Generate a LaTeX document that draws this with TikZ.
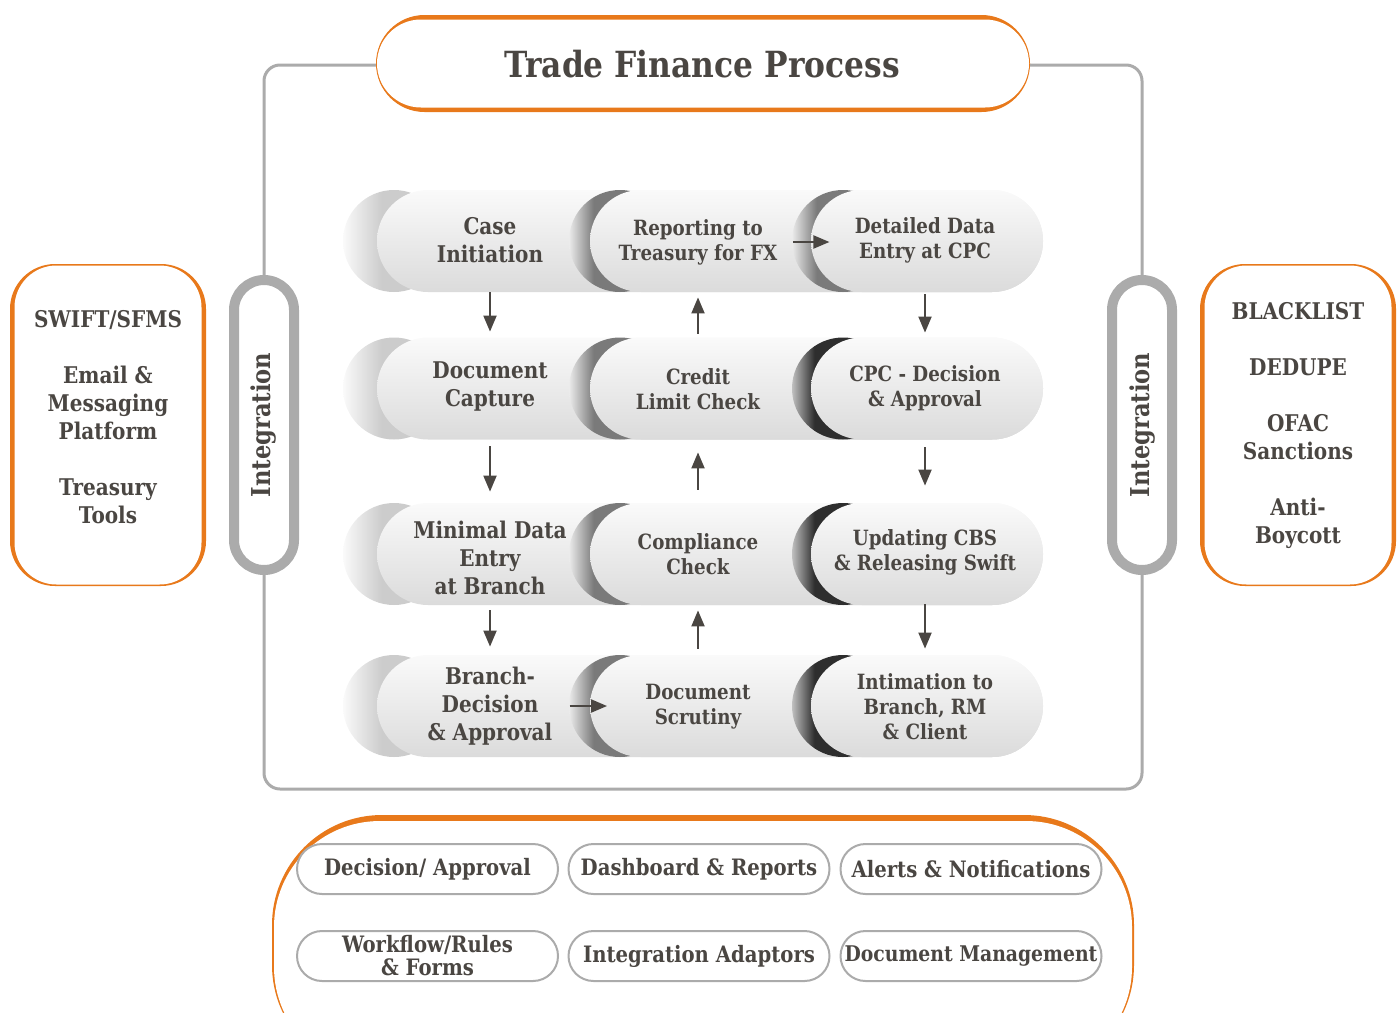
\documentclass[tikz,border=0pt]{standalone}
\usepackage{fontspec}
\setmainfont{DejaVu Serif}[FakeStretch=0.87]
\usetikzlibrary{calc, positioning, arrows.meta}

\definecolor{orng}{HTML}{E8791B}
\definecolor{frame}{HTML}{ABABAB}
\definecolor{ink}{HTML}{4A4642}
\definecolor{pilltop}{HTML}{FAFAFA}
\definecolor{pillbot}{HTML}{DBDBDB}

\pgfdeclarehorizontalshading{ghostshade}{100bp}{color(0bp)=(white!98!black); color(25bp)=(white!98!black); color(44bp)=(white!80!black); color(100bp)=(white!80!black)}
\pgfdeclarehorizontalshading{midshade}{100bp}{color(0bp)=(white!92!black); color(25bp)=(white!92!black); color(37bp)=(white!48!black); color(100bp)=(white!48!black)}
\pgfdeclarehorizontalshading{darkshade}{100bp}{color(0bp)=(white!75!black); color(25bp)=(white!75!black); color(36bp)=(black!82); color(100bp)=(black!82)}

% x start, y centre, shading, shadow offset
\newcommand{\pillseg}[4]{%
  \shade[shading=#3, rounded corners=25.5pt] (#1-#4,#2-51) rectangle (#1-#4+102,#2+51);
  \shade[top color=pilltop, bottom color=pillbot, rounded corners=25.5pt] (#1,#2-51) rectangle (1043,#2+51);
}

\tikzset{
  steptext/.style={align=center, text=ink, inner sep=0pt, minimum height=51pt, font=\bfseries\fontsize{10.5}{12.5}\selectfont},
  bigstep/.style={steptext, font=\bfseries\fontsize{11.5}{14}\selectfont},
  flow/.style={-{Triangle[length=8pt,width=6.5pt]}, line width=1pt, draw=ink},
  intgpill/.style={draw=frame, line width=5pt, fill=white, rounded corners=15pt, minimum width=145pt, minimum height=30pt, rotate=90, text=ink, font=\bfseries\fontsize{13}{15}\selectfont},
  modpill/.style={draw=frame, line width=1pt, fill=white, rounded corners=12.5pt, minimum width=130.5pt, minimum height=25pt, align=center, text=ink, inner sep=1pt, font=\bfseries\fontsize{11.3}{11.5}\selectfont},
  sidetext/.style={align=center, text=ink, font=\bfseries\fontsize{11.5}{14}\selectfont},
}

\begin{document}
\begin{tikzpicture}[x=0.5pt, y=-0.5pt]
    \useasboundingbox (0,0) rectangle (1400,1012);
    \clip (0,0) rectangle (1400,1012);

    % frame and title
    \draw[frame, line width=1.5pt, rounded corners=8pt] (264,65) rectangle (1142,789);
    \fill[orng, rounded corners=24.25pt] (376,15) rectangle (1030,112);
    \fill[white, rounded corners=22pt] (377,19.5) rectangle (1029,107.5);
    \node[text=ink, font=\bfseries\fontsize{18}{20}\selectfont] (title) at (702,64) {Trade Finance Process};

    % side boxes
    \fill[orng, rounded corners=22.5pt] (10,264) rectangle (206,586);
    \fill[white, rounded corners=21pt] (14.5,265.5) rectangle (201.5,584.5);
    \fill[orng, rounded corners=22.5pt] (1200,264) rectangle (1396,586);
    \fill[white, rounded corners=21pt] (1204.5,265.5) rectangle (1391.5,584.5);
    \node[sidetext] (ext) at (108,417) {SWIFT/SFMS\\[14pt]Email \&\\Messaging\\Platform\\[14pt]Treasury\\Tools};
    \node[sidetext] (chk) at (1298,426) {BLACKLIST\\[14pt]DEDUPE\\[14pt]OFAC\\Sanctions\\[14pt]Anti-\\Boycott};

    \node[intgpill] (intL) at (264,425) {Integration};
    \node[intgpill] (intR) at (1142,425) {Integration};

    % process rows
    \foreach \y/\sh in {241/midshade,388.5/darkshade,554/darkshade,706/darkshade}
    {
        \pillseg{377}{\y}{ghostshade}{34}
        \pillseg{590}{\y}{midshade}{21}
        \pillseg{811}{\y}{\sh}{19}
    };

    \node[bigstep] (r1c1) at (490,240) {Case\\Initiation};
    \node[steptext] (r1c2) at (698,242) {Reporting to\\Treasury for FX};
    \node[steptext] (r1c3) at (925,240) {Detailed Data\\Entry at CPC};
    \node[bigstep] (r2c1) at (490,387) {Document\\Capture};
    \node[steptext] (r2c2) at (698,389) {Credit\\Limit Check};
    \node[steptext] (r2c3) at (925,388) {CPC - Decision\\\& Approval};
    \node[bigstep] (r3c1) at (490,558) {Minimal Data\\Entry\\at Branch};
    \node[steptext] (r3c2) at (698,554) {Compliance\\Check};
    \node[steptext] (r3c3) at (925,552) {Updating CBS\\\& Releasing Swift};
    \node[bigstep] (r4c1) at (490,706) {Branch-\\Decision\\\& Approval};
    \node[steptext] (r4c2) at (698,707) {Document\\Scrutiny};
    \node[steptext] (r4c3) at (925,707) {Intimation to\\Branch, RM\\\& Client};

    \foreach \a/\b/\s/\e in {r1c1/r2c1/0.5/2, r2c1/r3c1/4/7.5, r3c1/r4c1/0.5/4, r1c3/r2c3/1.5/2, r2c3/r3c3/4/7.5, r3c3/r4c3/0.5/3.5}
    {
        \draw[flow, shorten <=\s pt, shorten >=\e pt] (\a.south) -- (\b.north);
    };
    \foreach \a/\b/\s/\e in {r2c2/r1c2/2/2, r3c2/r2c2/6.5/6, r4c2/r3c2/3.5/2.5}
    {
        \draw[flow, shorten <=\s pt, shorten >=\e pt] (\a.north) -- (\b.south);
    };
    \draw[flow, shorten <=7.5pt, shorten >=12.5pt] (r1c2.east) -- (r1c2.east -| r1c3.west);
    \draw[flow, shorten <=8.5pt, shorten >=19pt] (r4c1.east) -- (r4c1.east -| r4c2.west);

    % platform modules
    \fill[orng, rounded corners=55pt] (272,815) rectangle (1134,1075);
    \fill[white, rounded corners=53pt] (274,821) rectangle (1132,1073);
    \node[modpill] (m1) at (427.5,869) {Decision/ Approval};
    \node[modpill] (m2) at (699,869) {Dashboard \& Reports};
    \node[modpill] (m3) at (971,869) {Alerts \& Notifications};
    \node[modpill] (m4) at (427.5,956) {Workflow/Rules\\\& Forms};
    \node[modpill] (m5) at (699,956) {Integration Adaptors};
    \node[modpill, font=\bfseries\fontsize{10.8}{11.5}\selectfont] (m6) at (971,956) {Document Management};

\end{tikzpicture}
\end{document}
